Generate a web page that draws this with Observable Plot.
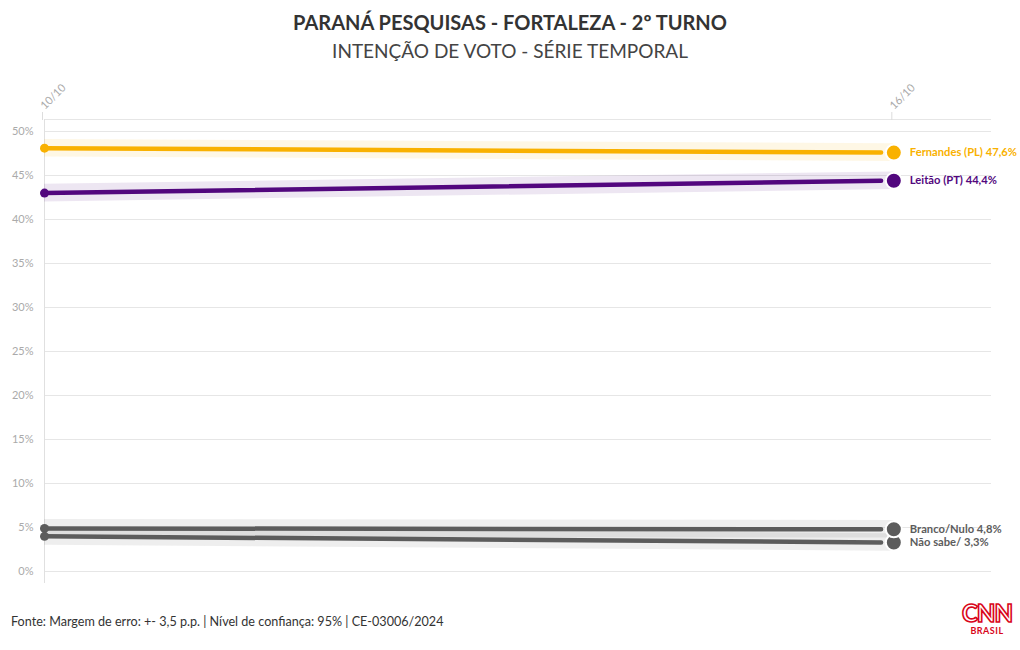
<!DOCTYPE html>
<html>
<head>
<meta charset="utf-8">
<script src="https://cdn.jsdelivr.net/npm/d3@7"></script>
<script src="https://cdn.jsdelivr.net/npm/@observablehq/plot@0.6"></script>
<style>
  html, body { margin: 0; padding: 0; background: #fff; }
  body { width: 1020px; height: 650px; position: relative; font-family: Lato, "Noto Sans", sans-serif; overflow: hidden; }
  #title { position: absolute; top: 10px; left: 0; width: 1020px; text-align: center; font-weight: 700; font-size: 20px; color: #333; }
  #subtitle { position: absolute; top: 39px; left: 0; width: 1020px; text-align: center; font-size: 19px; color: #444; }
  #chart { position: absolute; top: 70px; left: 0; }
  #caption { position: absolute; top: 614px; left: 11px; font-size: 12.6px; color: #333; }
  #logo { position: absolute; top: 601px; left: 961px; width: 52px; text-align: center; color: #d9061b; }
  #logo .cnn { font-weight: 900; font-size: 24px; line-height: 24px; letter-spacing: -1px; color: #fff; -webkit-text-stroke: 1.6px #d9061b; }
  #logo .br { font-weight: 700; font-size: 9px; line-height: 11px; letter-spacing: 0.5px; }
</style>
</head>
<body>
<div id="title">PARANÁ PESQUISAS - FORTALEZA - 2º TURNO</div>
<div id="subtitle">INTENÇÃO DE VOTO - SÉRIE TEMPORAL</div>
<div id="chart"></div>
<div id="caption">Fonte: Margem de erro: +- 3,5 p.p. | Nível de confiança: 95% | CE-03006/2024</div>
<div id="logo"><div class="cnn">CNN</div><div class="br">BRASIL</div></div>
<script>
// Data
const days = [10, 16];               // 10/10 and 16/10
const dayLabels = ["10/10", "16/10"];
const series = ["Fernandes (PL)", "Leitão (PT)", "Branco/Nulo", "Não sabe/"];
const fernandes = [48.1, 47.6];
const leitao = [43.0, 44.4];
const brancoNulo = [4.9, 4.8];
const naoSabe = [4.0, 3.3];
const yTicks = [0, 5, 10, 15, 20, 25, 30, 35, 40, 45, 50];
const colors = ["#f9b100", "#52077e", "#5c5c5c", "#5c5c5c"];
const band = 1.0;

const valuesBySeries = [fernandes, leitao, brancoNulo, naoSabe];
const rows = [];
series.forEach((s, i) => days.forEach((d, j) => rows.push({series: s, day: d, value: valuesBySeries[i][j], color: colors[i]})));
const lastDay = days[days.length - 1];
const ends = rows.filter(r => r.day === lastDay).reverse();
const starts = rows.filter(r => r.day === days[0]);
const fmt = v => v.toFixed(1).replace(".", ",") + "%";

const chart = Plot.plot({
  width: 1020,
  height: 530,
  marginLeft: 44,
  marginRight: 29,
  marginTop: 49,
  marginBottom: 17,
  style: {fontFamily: "Lato, 'Noto Sans', sans-serif", background: "#fff"},
  x: {domain: [10, 16.69], label: null},
  y: {domain: [-1.36, 51.36], label: null},
  marks: [
    Plot.ruleY(yTicks, {stroke: "#e6e6e6", strokeWidth: 1}),
    Plot.ruleY([51.36], {stroke: "#e6e6e6", strokeWidth: 1}),
    Plot.ruleX([days[0]], {stroke: "#e0e0e0", strokeWidth: 1}),
    Plot.axisY(yTicks, {tickFormat: d => d + "%", tickSize: 0, tickPadding: 11, fontSize: 11, fill: "#aaa", label: null}),
    Plot.axisX(days, {anchor: "top", tickFormat: d => dayLabels[days.indexOf(d)], tickRotate: -45, tickSize: 8, stroke: "#ddd", fill: "#aaa", fontSize: 11, tickPadding: 4, textAnchor: "start", dx: -2, label: null}),
    Plot.areaY(rows, {x: "day", y1: d => d.value - band, y2: d => d.value + band, z: "series", fill: "color", fillOpacity: 0.1, curve: "linear"}),
    Plot.line(rows, {x: d => d.day === lastDay ? lastDay - 0.09 : d.day, y: "value", z: "series", stroke: "color", strokeWidth: 4.5}),
    Plot.dot(starts, {x: "day", y: "value", fill: "color", r: 4.5}),
    Plot.dot(ends, {x: "day", y: "value", fill: "color", r: 8, stroke: "#fff", strokeWidth: 2}),
    Plot.text(ends, {x: "day", y: "value", text: d => d.series + " " + fmt(d.value), fill: "color", textAnchor: "start", dx: 16, fontSize: 11.2, fontWeight: 700})
  ]
});
document.getElementById("chart").appendChild(chart);
</script>
</body>
</html>
